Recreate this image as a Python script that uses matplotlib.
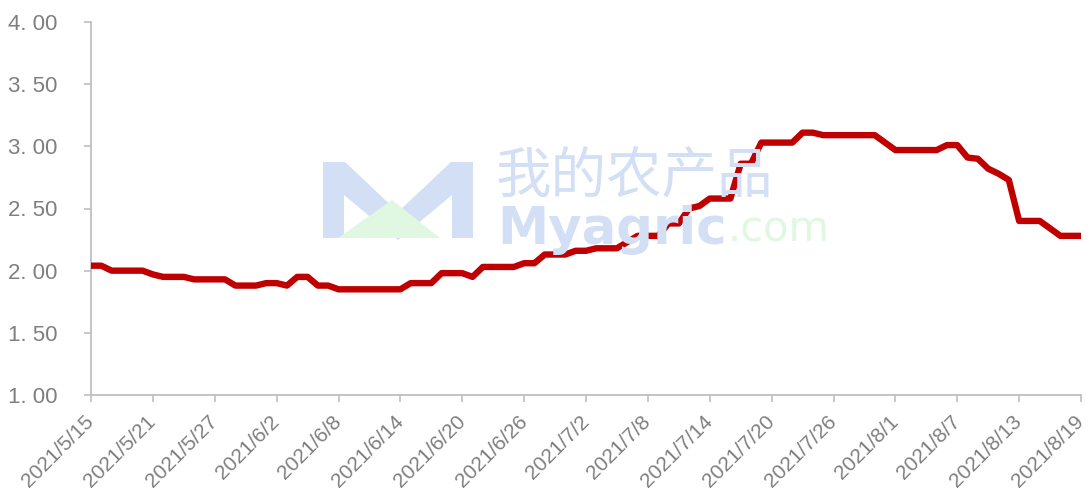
import matplotlib
matplotlib.use("Agg")
import matplotlib.pyplot as plt
from matplotlib.patches import Polygon
import pandas as pd

# daily price, 2021/5/15 - 2021/8/19
start_date = "2021-05-15"
end_date = "2021-08-19"
prices = [
    2.04, 2.04, 2.00, 2.00, 2.00, 2.00, 1.97, 1.95, 1.95, 1.95,
    1.93, 1.93, 1.93, 1.93, 1.88, 1.88, 1.88, 1.90, 1.90, 1.88,
    1.95, 1.95, 1.88, 1.88, 1.85, 1.85, 1.85, 1.85, 1.85, 1.85,
    1.85, 1.90, 1.90, 1.90, 1.98, 1.98, 1.98, 1.95, 2.03, 2.03,
    2.03, 2.03, 2.06, 2.06, 2.13, 2.13, 2.13, 2.16, 2.16, 2.18,
    2.18, 2.18, 2.23, 2.28, 2.28, 2.28, 2.38, 2.38, 2.50, 2.52,
    2.58, 2.58, 2.58, 2.86, 2.86, 3.03, 3.03, 3.03, 3.03, 3.11,
    3.11, 3.09, 3.09, 3.09, 3.09, 3.09, 3.09, 3.03, 2.97, 2.97,
    2.97, 2.97, 2.97, 3.01, 3.01, 2.91, 2.90, 2.82, 2.78, 2.73,
    2.40, 2.40, 2.40, 2.34, 2.28, 2.28, 2.28,
]
y_ticks = [1.0, 1.5, 2.0, 2.5, 3.0, 3.5, 4.0]

dates = pd.date_range(start_date, end_date, freq="D")
tick_dates = dates[::6]

W, H = 1091, 497
fig = plt.figure(figsize=(W / 100, H / 100), dpi=100)
ax = fig.add_axes([91 / W, 1 - 395 / H, (1081 - 91) / W, (395 - 22) / H])

grey = "#bfbfbf"
txt = "#7f7f7f"


def px(x, y):
    return x / W, 1 - y / H


# watermark (behind the line)
blue_wm = "#d2dff5"
green_wm = "#e0f8e2"
m_shape = [(323, 238), (323, 162), (345, 162), (398, 212), (451, 162),
           (473, 162), (473, 238), (452, 238), (452, 195), (398, 240),
           (344, 195), (344, 238)]
fig.patches.append(Polygon([px(*p) for p in m_shape], closed=True,
                           transform=fig.transFigure, fc=blue_wm, ec="none",
                           zorder=0))
tri = [(338, 238), (392, 200), (440, 238)]
fig.patches.append(Polygon([px(*p) for p in tri], closed=True,
                           transform=fig.transFigure, fc=green_wm, ec="none",
                           zorder=0))
fig.text(*px(496, 177), "我的农产品", fontsize=40, color=blue_wm,
         family=["Noto Sans CJK SC", "DejaVu Sans"],
         ha="left", va="center", zorder=0)
fig.text(*px(497, 230), "Myagric", fontsize=37, color=blue_wm,
         family="DejaVu Sans", fontweight="bold", ha="left", va="center",
         zorder=0)
fig.text(*px(728, 230), ".com", fontsize=30, color=green_wm,
         family="DejaVu Sans", ha="left", va="center", zorder=0)

ax.set_facecolor("none")
ax.plot(dates, prices, color="#c00000", lw=4.6, solid_joinstyle="round",
        solid_capstyle="butt", zorder=3)

ax.set_xlim(dates[0], dates[-1])
ax.set_ylim(1.0, 4.0)
ax.set_yticks(y_ticks)
ax.set_yticklabels([f"{v:.2f}".replace(".", ". ") for v in y_ticks],
                   fontsize=16, color=txt, family="Liberation Sans")
ax.set_xticks(tick_dates)
ax.set_xticklabels([f"{d.year}/{d.month}/{d.day}" for d in tick_dates],
                   rotation=45, ha="right", va="center", rotation_mode="anchor",
                   fontsize=15, color=txt, family="Liberation Sans")

for side in ("top", "right"):
    ax.spines[side].set_visible(False)
for side in ("left", "bottom"):
    ax.spines[side].set_color(grey)
    ax.spines[side].set_linewidth(1.3)
ax.tick_params(axis="both", which="both", length=5, width=1.2, color=grey)
ax.tick_params(axis="y", pad=19)
ax.tick_params(axis="x", pad=12)

fig.savefig("out.png", dpi=100)
